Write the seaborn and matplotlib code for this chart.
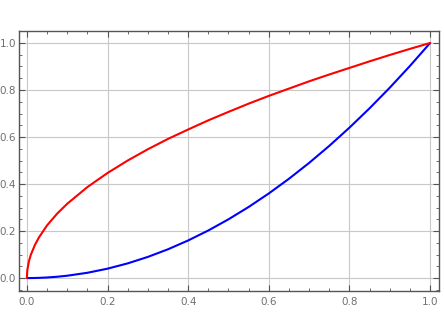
import matplotlib
matplotlib.use("Agg")
import matplotlib.pyplot as plt
import seaborn as sns
import pandas as pd
from matplotlib.ticker import MultipleLocator, FormatStrFormatter

x_vals = [0, 0.001, 0.005, 0.01, 0.02, 0.03, 0.05, 0.075, 0.1, 0.15, 0.2, 0.25, 0.3, 0.35,
          0.4, 0.45, 0.5, 0.55, 0.6, 0.65, 0.7, 0.75, 0.8, 0.85, 0.9, 0.95, 1.0]
red_vals = [0, 0.032, 0.071, 0.1, 0.141, 0.173, 0.224, 0.274, 0.316, 0.387, 0.447, 0.5, 0.548,
            0.592, 0.632, 0.671, 0.707, 0.742, 0.775, 0.806, 0.837, 0.866, 0.894, 0.922,
            0.949, 0.975, 1.0]
blue_vals = [0, 0.000001, 0.000025, 0.0001, 0.0004, 0.0009, 0.0025, 0.0056, 0.01, 0.0225, 0.04,
             0.0625, 0.09, 0.1225, 0.16, 0.2025, 0.25, 0.3025, 0.36, 0.4225, 0.49, 0.5625,
             0.64, 0.7225, 0.81, 0.9025, 1.0]
tick_vals = [0.0, 0.2, 0.4, 0.6, 0.8, 1.0]

sns.set_style("white")
plt.rcParams['font.family'] = ['DejaVu Sans']

fig = plt.figure(figsize=(4.44, 3.33), dpi=100)
ax = fig.add_axes([19 / 444, 1 - 291 / 333, (439 - 19) / 444, (291 - 31) / 333])

df = pd.DataFrame({"x": x_vals, "red": red_vals, "blue": blue_vals})
sns.lineplot(data=df, x="x", y="blue", color="#0000ff", linewidth=1.5, ax=ax)
sns.lineplot(data=df, x="x", y="red", color="#ff0000", linewidth=1.5, ax=ax)

ax.set_xlim(-0.0195, 1.022)
ax.set_ylim(-0.055, 1.051)
ax.set_xticks(tick_vals)
ax.set_yticks(tick_vals)
ax.xaxis.set_minor_locator(MultipleLocator(0.05))
ax.yaxis.set_minor_locator(MultipleLocator(0.05))
ax.xaxis.set_major_formatter(FormatStrFormatter('%.1f'))
ax.yaxis.set_major_formatter(FormatStrFormatter('%.1f'))
ax.set_xlabel("")
ax.set_ylabel("")
ax.grid(True, which="major", color="#c8c8c8", linewidth=0.8)
ax.set_axisbelow(True)
for s in ax.spines.values():
    s.set_visible(True)
    s.set_color("#555555")
    s.set_linewidth(1.0)
ax.tick_params(which="both", direction="in", top=True, right=True, bottom=True, left=True,
               colors="#555555", labelcolor="#707070", labelsize=7.5)
ax.tick_params(which="major", length=4, width=0.8)
ax.tick_params(which="minor", length=2, width=0.6)
ax.tick_params(axis="y", which="major", pad=2)
ax.tick_params(axis="x", which="major", pad=4)

fig.savefig("out.png", dpi=100)
